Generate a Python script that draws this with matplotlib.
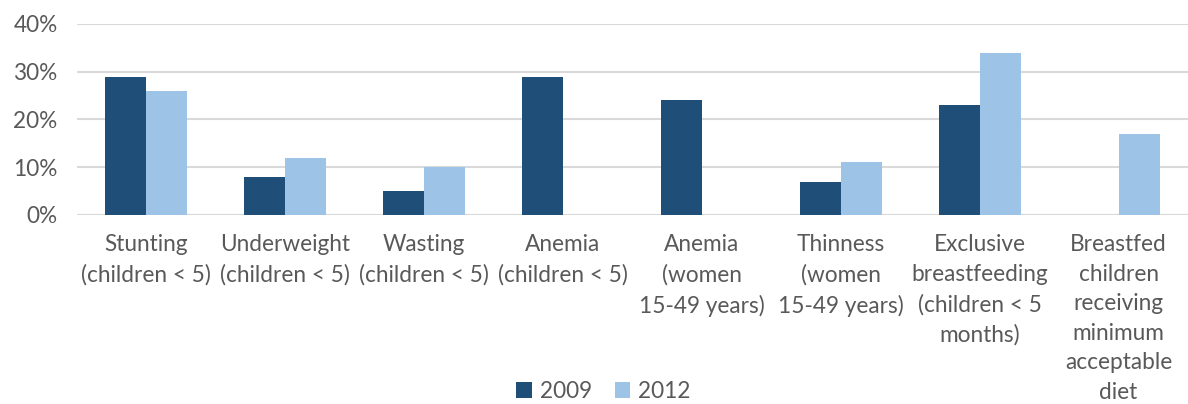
import numpy as np
from matplotlib import pyplot as plt

categories = [
    "Stunting\n(children < 5)",
    "Underweight\n(children < 5)",
    "Wasting\n(children < 5)",
    "Anemia\n(children < 5)",
    "Anemia\n(women\n15-49 years)",
    "Thinness\n(women\n15-49 years)",
    "Exclusive\nbreastfeeding\n(children < 5\nmonths)",
    "Breastfed\nchildren\nreceiving\nminimum\nacceptable\ndiet",
]
v2009 = [29, 8, 5, 29, 24, 7, 23, None]
v2012 = [26, 12, 10, None, None, 11, 34, 17]
yticks = [0, 10, 20, 30, 40]

plt.rcParams["font.family"] = ["Lato", "DejaVu Sans"]
grey = "#595959"

fig = plt.figure(figsize=(11.88, 4.04), dpi=100)
ax = fig.add_axes([0.0648, 0.468, 0.9352, 0.4726])

x = np.arange(len(categories))
w = 0.295
a = np.array([np.nan if v is None else v for v in v2009], dtype=float)
b = np.array([np.nan if v is None else v for v in v2012], dtype=float)
ax.bar(x - w / 2, a, w, color="#1f4e79", label="2009", zorder=3)
ax.bar(x + w / 2, b, w, color="#9dc3e6", label="2012", zorder=3)

ax.set_xlim(-0.5, len(categories) - 0.5)
ax.set_ylim(0, 40)
ax.set_yticks(yticks)
ax.set_yticklabels([f"{t}%" for t in yticks])
ax.set_xticks(x)
ax.set_xticklabels(categories, linespacing=1.5)
ax.yaxis.grid(True, color="#d9d9d9", linewidth=1.5, zorder=0)
ax.tick_params(axis="both", length=0, labelsize=16.3, colors=grey)
ax.tick_params(axis="x", pad=14)
ax.tick_params(axis="y", pad=14)
for s in ax.spines.values():
    s.set_visible(False)
ax.axhline(0, color="#d9d9d9", linewidth=1.5, zorder=2)

fig.legend(loc="center", bbox_to_anchor=(0.508, 0.032), ncol=2, frameon=False,
           fontsize=16.3, labelcolor=grey, handlelength=0.7, handleheight=0.7,
           columnspacing=1.0, handletextpad=0.35, borderpad=0)

fig.savefig("out.png", dpi=100)
